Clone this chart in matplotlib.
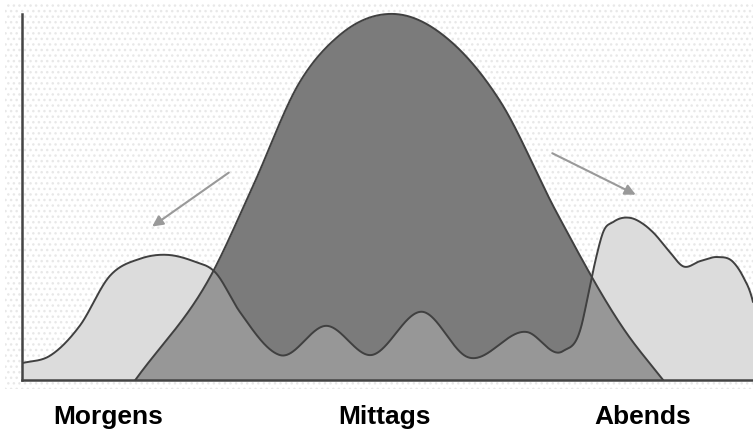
import numpy as np
import matplotlib.pyplot as plt
from matplotlib.patches import Rectangle

# time of day (0..100) and activity level (0..100)
mittag_x = [15.5, 26.1, 31.6, 38.0, 43.5, 51.0, 58.6, 65.4, 73.1, 82.6, 87.7]
mittag_y = [0.0, 29.5, 53.0, 81.4, 94.3, 100.0, 92.6, 76.2, 45.9, 13.1, 0.0]

randzeit_x = [0.0, 3.8, 7.9, 12.0, 16.1, 19.8, 23.4, 26.4, 29.8, 35.3, 41.7,
              47.6, 54.9, 60.9, 69.1, 74.0, 76.4, 77.7, 78.5, 79.5, 80.9,
              83.2, 85.0, 86.3, 88.6, 90.4, 92.8, 95.1, 97.3, 98.6, 99.9,
              101.0]
randzeit_y = [4.6, 6.6, 14.8, 28.4, 33.1, 34.2, 32.5, 29.5, 18.6, 6.8, 14.8,
              6.8, 18.6, 6.3, 13.1, 7.9, 13.9, 25.7, 33.1, 40.4, 43.2,
              44.3, 42.6, 40.4, 35.0, 31.1, 32.5, 33.6, 32.2, 28.4, 22.1,
              11.2]

labels = ["Morgens", "Mittags", "Abends"]
label_pos = [11.8, 49.6, 84.9]


def smooth(xs, ys, grid):
    # cubic hermite through the read points, zero outside them
    xs = np.asarray(xs, float)
    ys = np.asarray(ys, float)
    m = np.gradient(ys, xs)
    out = np.zeros_like(grid)
    for i in range(len(xs) - 1):
        sel = (grid >= xs[i]) & (grid <= xs[i + 1])
        h = xs[i + 1] - xs[i]
        t = (grid[sel] - xs[i]) / h
        h00 = 2 * t**3 - 3 * t**2 + 1
        h10 = t**3 - 2 * t**2 + t
        h01 = -2 * t**3 + 3 * t**2
        h11 = t**3 - t**2
        out[sel] = h00 * ys[i] + h10 * h * m[i] + h01 * ys[i + 1] + h11 * h * m[i + 1]
    return np.clip(out, 0, None)


grid = np.linspace(0, 101, 2000)
dark = smooth(mittag_x, mittag_y, grid)
light = smooth(randzeit_x, randzeit_y, grid)
both = np.minimum(dark, light)

fig = plt.figure(figsize=(7.53, 4.31), dpi=100)
plt.rcParams['hatch.linewidth'] = 1.0
plt.rcParams['hatch.color'] = '#e8e8e8'

# dotted paper background
bg = Rectangle((0.007, 0.095), 0.993, 0.895, transform=fig.transFigure,
               facecolor='white', edgecolor='#e8e8e8', hatch='...', lw=0,
               zorder=-5)
fig.add_artist(bg)

ax = fig.add_axes([22 / 753, 50 / 431, 731 / 753, 366 / 431])
ax.set_facecolor('none')

ax.fill_between(grid, 0, light, color='#dcdcdc', lw=0)
ax.fill_between(grid, 0, dark, color='#7b7b7b', lw=0)
ax.fill_between(grid, 0, both, color='#979797', lw=0)
m_d = (grid >= mittag_x[0]) & (grid <= mittag_x[-1])
ax.plot(grid[m_d], dark[m_d], color='#404040', lw=1.4, clip_on=False)
ax.plot(grid[grid <= 100], light[grid <= 100], color='#404040', lw=1.4)

ax.annotate('', xy=(17.5, 41.5), xytext=(28.6, 57.1),
            arrowprops=dict(arrowstyle='-|>', color='#999999', lw=1.5,
                            mutation_scale=16))
ax.annotate('', xy=(84.3, 50.3), xytext=(72.2, 62.3),
            arrowprops=dict(arrowstyle='-|>', color='#999999', lw=1.5,
                            mutation_scale=16))

ax.set_xlim(0, 100)
ax.set_ylim(0, 100)
ax.set_xticks([])
ax.set_yticks([])
for s in ['top', 'right']:
    ax.spines[s].set_visible(False)
for s in ['left', 'bottom']:
    ax.spines[s].set_color('#444444')
    ax.spines[s].set_linewidth(1.8)

for lab, x in zip(labels, label_pos):
    ax.text(x, -0.1175, lab, transform=ax.get_xaxis_transform(),
            ha='center', va='baseline', fontsize=19, fontweight='bold',
            family='Liberation Sans')

fig.savefig('out.png', dpi=100)
